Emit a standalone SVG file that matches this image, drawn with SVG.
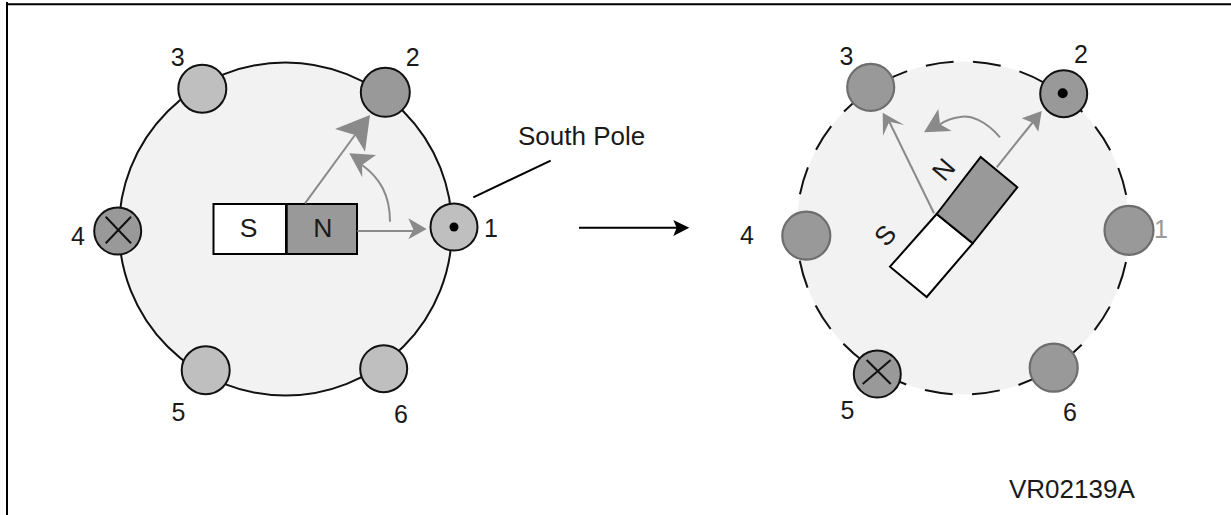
<svg xmlns="http://www.w3.org/2000/svg" width="1231" height="515" viewBox="0 0 1231 515">
<style>
text{font-family:"Liberation Sans",Arial,sans-serif;font-size:25px;fill:#1a1a1a}
.big{font-size:26px}
.pole{font-size:26.5px}
.disc{fill:#f2f2f2}
.ring{fill:none;stroke:#111;stroke-width:2}
.dash{stroke-dasharray:28 19.5;stroke-dashoffset:13.15}
.lt{fill:#bfbfbf;stroke:#111;stroke-width:2}
.dk{fill:#999;stroke:#111;stroke-width:2}
.rim{fill:#999;stroke:#6e6e6e;stroke-width:2.2}
.mark{stroke:#111;stroke-width:2;fill:none}
.box{stroke:#000;stroke-width:2;stroke-linejoin:miter}
.g{fill:none;stroke:#8a8a8a;stroke-width:2}
.gh{fill:#8a8a8a;stroke:none}
.k{fill:none;stroke:#000;stroke-width:2}
</style>
<g id="frame"><path d="M7 515V2M6 4.3H1231" stroke="#000" stroke-width="2" fill="none"/></g>

<g id="stator-left">
<circle class="disc" cx="285.5" cy="229" r="166.5"/>
<circle class="ring" cx="285.5" cy="229" r="166.5"/>
</g>
<g id="stator-right">
<circle class="disc" cx="963" cy="228" r="166.5"/>
<circle class="ring dash" cx="963" cy="228" r="166.5"/>
</g>

<g id="left-coil-1"><circle class="lt" cx="454" cy="227" r="23.5"/><circle cx="454" cy="227" r="4.5" fill="#000"/><text x="484" y="236.7">1</text></g>
<g id="left-coil-2"><circle class="dk" cx="385.3" cy="92.3" r="24.5"/><text x="405.7" y="65.7">2</text></g>
<g id="left-coil-3"><circle class="lt" cx="202.3" cy="88.7" r="24"/><text x="170.7" y="65.7">3</text></g>
<g id="left-coil-4"><circle class="dk" cx="117.7" cy="231" r="23.5"/><path class="mark" d="M105.7 216.7L131 243.3M131 216.7L105.7 243.3"/><text x="71" y="245">4</text></g>
<g id="left-coil-5"><circle class="lt" cx="205.7" cy="370.3" r="24"/><text x="171.5" y="421">5</text></g>
<g id="left-coil-6"><circle class="lt" cx="383.7" cy="368.7" r="23.5"/><text x="394" y="423">6</text></g>

<g id="left-magnet">
<rect class="box" x="213.5" y="204" width="72.5" height="50" fill="#fff"/>
<rect class="box" x="286.7" y="204" width="70.3" height="50" fill="#999"/>
<text class="pole" x="248.5" y="237.3" text-anchor="middle">S</text>
<text class="pole" x="322.7" y="237.3" text-anchor="middle">N</text>
</g>

<g id="right-coil-1"><circle class="rim" cx="1129" cy="230.3" r="24.5"/><text x="1154" y="238" style="fill:#999">1</text></g>
<g id="right-coil-2"><circle class="dk" cx="1063.7" cy="93.7" r="23.5"/><circle cx="1062.7" cy="93.3" r="5" fill="#000"/><text x="1074" y="62.7">2</text></g>
<g id="right-coil-3"><circle class="rim" cx="870.7" cy="87.3" r="23.5"/><text x="839.5" y="65">3</text></g>
<g id="right-coil-4"><circle class="rim" cx="806.3" cy="235.7" r="24"/><text x="740" y="244.3">4</text></g>
<g id="right-coil-5"><circle class="dk" cx="877.3" cy="374" r="23.5"/><path class="mark" d="M866.7 360L890.7 384M890.7 360L862.7 384"/><text x="840.5" y="419">5</text></g>
<g id="right-coil-6"><circle class="rim" cx="1053.7" cy="367.7" r="24"/><text x="1063" y="421">6</text></g>

<g id="connectors">
<path class="g" d="M305 203.3L355 135"/>
<polygon class="gh" points="370,115 335,129 355,135 365,151.7"/>
<path class="g" d="M390 221.7C390 195 380 178 362 165"/>
<polygon class="gh" points="349.3,153.3 376,155 362,165 362.3,177.3"/>
<path class="g" d="M357.3 231H414"/>
<polygon class="gh" points="426.7,229 408.3,218.3 413.3,229.5 408.3,239.3"/>
<path class="g" d="M934 213.3L889.3 121.7"/>
<polygon class="gh" points="882.7,112.7 904.3,125 889.3,121.7 883,135.7"/>
<path class="g" d="M996.7 167.3L1033 122"/>
<polygon class="gh" points="1041.7,111 1021.7,118.3 1032.7,122.7 1038.3,131.7"/>
<path class="g" d="M1000 137.3C985 120 970 115 960 117C952 118 945 121 940 124.3"/>
<polygon class="gh" points="924,132.3 938.3,109 940,124.3 951.7,131"/>
<path class="k" d="M473.3 197.3L550.7 160.7"/>
<path class="k" d="M579 227.7H678"/>
<polygon points="689.3,227.7 673.3,220 676.7,227.7 673.3,236" fill="#000"/>
</g>

<g id="right-magnet">
<polygon class="box" points="936.7,214 972.7,243.3 926.7,297 890,266.7" fill="#fff"/>
<polygon class="box" points="980.7,157 1017.3,187.3 972.7,243.3 936.7,214" fill="#999"/>
<text class="pole" transform="translate(943.3 169.3) rotate(-49)" y="9.5" text-anchor="middle">N</text>
<text class="pole" transform="translate(885 235) rotate(-49)" y="9.5" text-anchor="middle">S</text>
</g>

<g id="label-south-pole"><text class="big" x="518" y="145.3">South Pole</text></g>
<g id="label-ref"><text class="big" x="1009" y="498.3">VR02139A</text></g>
</svg>
